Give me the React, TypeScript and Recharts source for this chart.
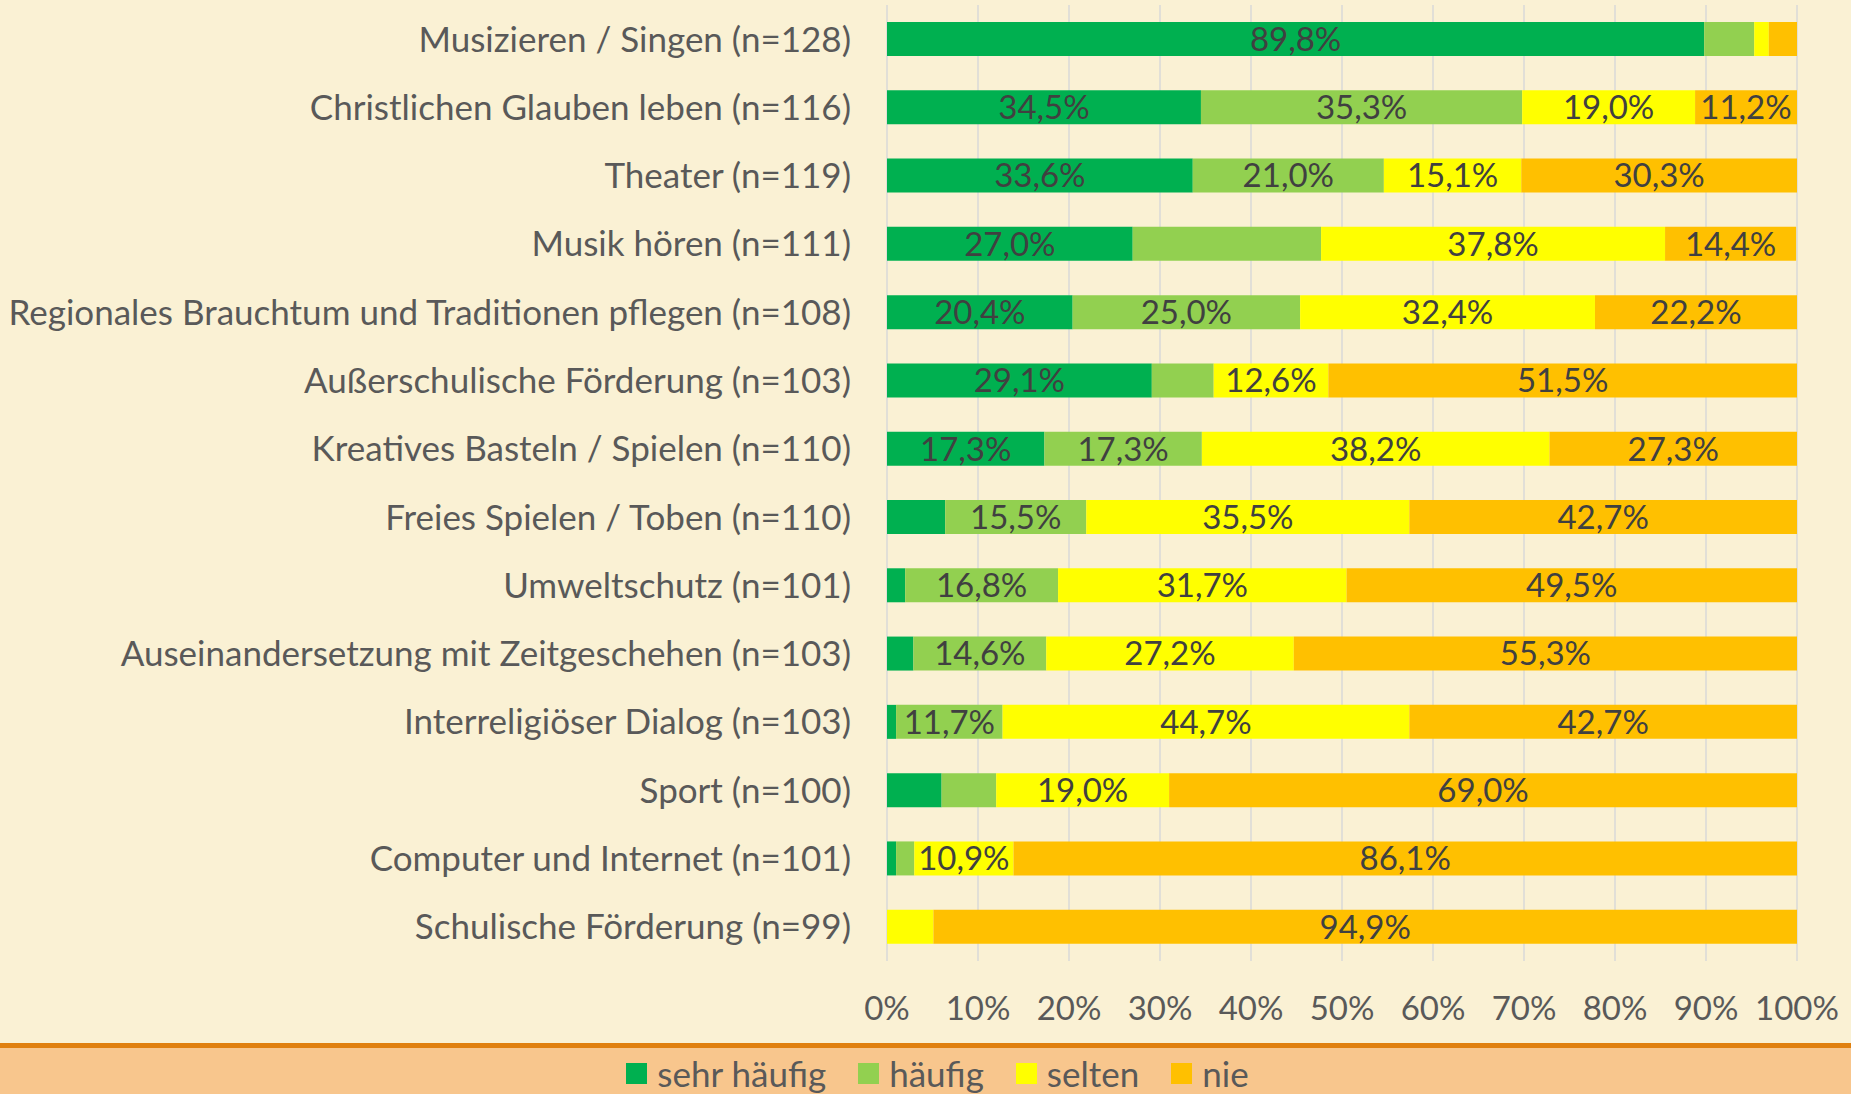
import React from 'react';
import { BarChart, Bar, XAxis, YAxis, CartesianGrid, LabelList, Legend } from 'recharts';

const categories = [
  'Musizieren / Singen (n=128)',
  'Christlichen Glauben leben (n=116)',
  'Theater (n=119)',
  'Musik hören (n=111)',
  'Regionales Brauchtum und Traditionen pflegen (n=108)',
  'Außerschulische Förderung (n=103)',
  'Kreatives Basteln / Spielen (n=110)',
  'Freies Spielen / Toben (n=110)',
  'Umweltschutz (n=101)',
  'Auseinandersetzung mit Zeitgeschehen (n=103)',
  'Interreligiöser Dialog (n=103)',
  'Sport (n=100)',
  'Computer und Internet (n=101)',
  'Schulische Förderung (n=99)',
];

const sehrHaeufig = [89.8, 34.5, 33.6, 27.0, 20.4, 29.1, 17.3, 6.4, 2.0, 2.9, 1.0, 6.0, 1.0, 0];
const haeufig = [5.5, 35.3, 21.0, 20.7, 25.0, 6.8, 17.3, 15.5, 16.8, 14.6, 11.7, 6.0, 2.0, 0];
const selten = [1.6, 19.0, 15.1, 37.8, 32.4, 12.6, 38.2, 35.5, 31.7, 27.2, 44.7, 19.0, 10.9, 5.1];
const nie = [3.1, 11.2, 30.3, 14.4, 22.2, 51.5, 27.3, 42.7, 49.5, 55.3, 42.7, 69.0, 86.1, 94.9];

const seriesNames = ['sehr häufig', 'häufig', 'selten', 'nie'];
const seriesKeys = ['sehrHaeufig', 'haeufig', 'selten', 'nie'];
const seriesColors = ['#00B050', '#92D050', '#FFFF00', '#FFC000'];

const xTicks = [0, 10, 20, 30, 40, 50, 60, 70, 80, 90, 100];

// segments below this share get no label in the original, plus one odd exception
const minLabel = 10;
const hiddenLabels = ['Musik hören (n=111)|häufig'];

const data = categories.map((name, i) => ({
  name,
  sehrHaeufig: sehrHaeufig[i],
  haeufig: haeufig[i],
  selten: selten[i],
  nie: nie[i],
}));

const FONT = 'Lato, "Open Sans", sans-serif';
const NUM_SIZE = 33; // digits in the source font run wide, words run narrow
const WORD_SIZE = 35;
const TEXT = '#595959';

const fmt = (v: number) => v.toFixed(1).replace('.', ',') + '%';

const makeLabel = (series: string) => (props: any) => {
  const { x, y, width, height, value, index } = props;
  if (value == null || value < minLabel) return null;
  if (hiddenLabels.includes(`${categories[index]}|${series}`)) return null;
  return (
    <text
      x={Number(x) + Number(width) / 2}
      y={Number(y) + Number(height) / 2}
      dy="0.36em"
      textAnchor="middle"
      fill="#404040"
      fontFamily={FONT}
      fontSize={NUM_SIZE}
    >
      {fmt(value)}
    </text>
  );
};

const LegendContent = () => (
  <div
    style={{
      display: 'flex',
      justifyContent: 'center',
      alignItems: 'center',
      paddingTop: 9,
      paddingLeft: 24,
      height: 33,
    }}
  >
    {seriesNames.map((s, i) => (
      <div key={s} style={{ display: 'flex', alignItems: 'center', marginRight: i < 3 ? 32 : 0 }}>
        <div style={{ width: 21, height: 21, background: seriesColors[i], marginRight: 10 }} />
        <span style={{ fontFamily: FONT, fontSize: WORD_SIZE, lineHeight: '33px', color: TEXT }}>{s}</span>
      </div>
    ))}
  </div>
);

export default function App() {
  return (
    <div style={{ position: 'absolute', left: 0, top: 0, width: 1851, height: 1094, background: '#FAF1D4', overflow: 'hidden' }}>
      <BarChart
        width={1851}
        height={1094}
        data={data}
        layout="vertical"
        barSize={34}
        margin={{ top: 5, right: 54, bottom: 51, left: 0 }}
      >
        <CartesianGrid horizontal={false} stroke="#D9D9D9" strokeWidth={1.5} />
        <XAxis
          type="number"
          domain={[0, 100]}
          ticks={xTicks}
          allowDataOverflow
          tickFormatter={(v) => `${v}%`}
          axisLine={false}
          tickLine={false}
          tickSize={0}
          tickMargin={36}
          height={82}
          tick={{ fill: TEXT, fontFamily: FONT, fontSize: NUM_SIZE }}
          interval={0}
        />
        <YAxis
          type="category"
          dataKey="name"
          width={887}
          axisLine={false}
          tickLine={false}
          tickSize={0}
          tickMargin={36}
          interval={0}
          tick={{ fill: TEXT, fontFamily: FONT, fontSize: WORD_SIZE }}
        />
        <Legend
          layout="horizontal"
          verticalAlign="middle"
          align="center"
          wrapperStyle={{
            top: 1043,
            left: 0,
            width: 1851,
            height: 51,
            background: '#F8C68D',
            borderTop: '5px solid #E0800F',
            boxSizing: 'border-box',
          }}
          content={<LegendContent />}
        />
        {seriesKeys.map((k, i) => (
          <Bar key={k} dataKey={k} name={seriesNames[i]} stackId="a" fill={seriesColors[i]} isAnimationActive={false}>
            <LabelList dataKey={k} content={makeLabel(seriesNames[i])} />
          </Bar>
        ))}
      </BarChart>
    </div>
  );
}
